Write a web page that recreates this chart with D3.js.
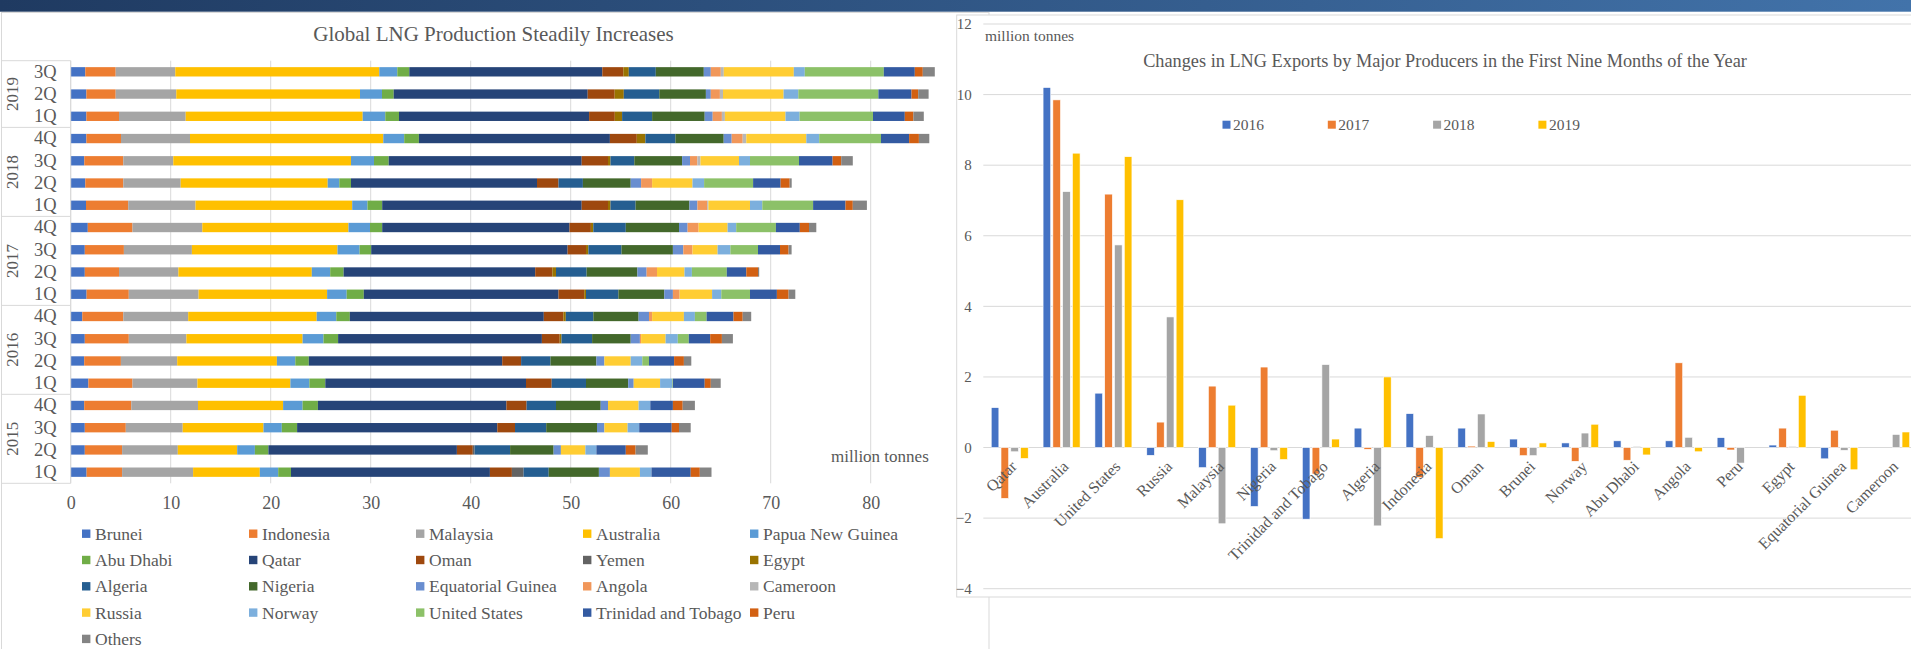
<!DOCTYPE html>
<html>
<head>
<meta charset="utf-8">
<script src="https://cdn.jsdelivr.net/npm/d3@7"></script>
<style>
    body { margin: 0; background: #fff; }
    svg { display: block; font-family: "Liberation Serif", "Times New Roman", serif; }
</style>
</head>
<body>
<svg id="drawing_region"></svg>
<script>
// ---- left chart data (2015 1Q ... 2019 3Q, million tonnes) ----
const periodYears    = ["2015","2015","2015","2015","2016","2016","2016","2016","2017","2017","2017","2017","2018","2018","2018","2018","2019","2019","2019"];
const periodQuarters = ["1Q","2Q","3Q","4Q","1Q","2Q","3Q","4Q","1Q","2Q","3Q","4Q","1Q","2Q","3Q","4Q","1Q","2Q","3Q"];
const xTicks = [0, 10, 20, 30, 40, 50, 60, 70, 80];

const producers = ["Brunei","Indonesia","Malaysia","Australia","Papua New Guinea","Abu Dhabi","Qatar","Oman","Yemen","Egypt",
                   "Algeria","Nigeria","Equatorial Guinea","Angola","Cameroon","Russia","Norway","United States","Trinidad and Tobago","Peru","Others"];

const brunei     = [1.59,1.41,1.41,1.35, 1.77,1.35,1.41,1.16, 1.59,1.41,1.41,1.71, 1.53,1.46,1.36,1.57, 1.57,1.57,1.46];
const indonesia  = [3.55,3.73,4.10,4.71, 4.41,3.67,4.40,4.10, 4.22,3.42,3.91,4.47, 4.22,3.80,3.90,3.46, 3.26,2.93,3.04];
const malaysia   = [7.10,5.57,5.69,6.67, 6.49,5.63,5.76,6.49, 6.98,5.94,6.80,6.98, 6.73,5.74,5.00,6.90, 6.67,6.06,5.96];
const australia  = [6.67,5.94,8.08,8.51, 9.30,9.97,11.62,12.85, 12.85,13.34,14.56,14.62, 15.67,14.70,17.77,19.33, 17.70,18.37,20.40];
const papua      = [1.84,1.77,1.83,1.95, 1.90,1.84,2.09,1.96, 1.96,1.84,2.21,2.15, 1.53,1.16,2.30,2.09, 2.26,2.20,1.80];
const abuDhabi   = [1.28,1.35,1.53,1.53, 1.59,1.35,1.46,1.35, 1.71,1.34,1.16,1.22, 1.47,1.17,1.47,1.47, 1.37,1.17,1.20];
const qatar      = [19.89,18.85,20.02,18.85, 20.07,19.34,20.38,19.40, 19.47,19.16,19.64,18.73, 19.95,18.60,19.30,19.10, 19.01,19.40,19.30];
const oman       = [2.20,1.59,1.77,2.02, 2.57,1.89,1.78,1.96, 2.57,1.71,1.84,2.14, 2.63,2.15,2.63,2.69, 2.57,2.70,2.10];
const yemen      = [1.17,0.18,0,0, 0,0,0,0, 0,0,0,0, 0,0,0,0, 0,0,0];
const egypt      = [0,0,0,0, 0,0,0.18,0.24, 0.18,0.37,0.24,0.24, 0.25,0,0.25,0.86, 0.73,0.91,0.55];
const algeria    = [2.51,3.55,3.12,2.94, 3.43,2.94,3.06,2.75, 3.24,3.06,3.31,3.25, 2.51,2.44,2.38,3.00, 3.00,3.55,2.70];
const nigeria    = [5.02,4.35,5.08,4.47, 4.22,4.59,3.86,4.53, 4.59,5.08,5.14,5.32, 5.38,4.78,4.78,4.83, 5.26,4.66,4.80];
const eqGuinea   = [1.10,0.73,0.74,0.73, 0.55,0.80,0.92,1.04, 0.86,0.92,1.04,0.86, 0.80,1.04,0.79,0.80, 0.80,0.49,0.70];
const angola     = [0,0,0,0, 0,0,0.12,0.31, 0.67,1.04,0.92,1.10, 0.98,1.10,0.74,1.10, 0.92,0.91,1.00];
const cameroon   = [0,0,0,0, 0,0,0,0, 0,0,0,0, 0.12,0,0.31,0.36, 0.30,0.31,0.30];
const russia     = [3.00,2.45,2.32,3.06, 2.64,2.63,2.45,3.18, 3.25,2.75,2.51,2.90, 4.16,4.04,3.85,6.00, 6.06,6.06,7.00];
const norway     = [1.16,1.10,1.16,1.17, 1.22,1.16,1.22,1.10, 0.92,0.74,1.28,0.86, 1.23,1.16,1.10,1.29, 1.41,1.47,1.10];
const usa        = [0,0,0,0, 0.06,0.67,1.10,1.17, 2.87,3.49,2.76,3.97, 5.08,4.90,4.90,6.18, 7.34,8.01,7.90];
const trinidad   = [3.92,2.94,3.25,2.26, 3.18,2.51,2.14,2.69, 2.69,1.95,2.20,2.39, 3.24,2.75,3.36,2.81, 3.18,3.31,3.10];
const peru       = [0.91,0.98,0.73,0.98, 0.61,0.98,1.17,0.92, 1.17,1.17,0.86,0.92, 0.73,0.91,0.86,0.98, 0.86,0.67,0.80];
const others     = [1.17,1.22,1.17,1.22, 0.99,0.74,1.10,0.85, 0.67,0.12,0.30,0.73, 1.41,0.20,1.16,1.04, 1.04,1.04,1.20];

const producerValues = [brunei, indonesia, malaysia, australia, papua, abuDhabi, qatar, oman, yemen, egypt,
                        algeria, nigeria, eqGuinea, angola, cameroon, russia, norway, usa, trinidad, peru, others];

// ---- right chart data (change vs previous year, million tonnes) ----
const exporters = ["Qatar","Australia","United States","Russia","Malaysia","Nigeria","Trinidad and Tobago","Algeria","Indonesia",
                   "Oman","Brunei","Norway","Abu Dhabi","Angola","Peru","Egypt","Equatorial Guinea","Cameroon"];
const changeYears = ["2016","2017","2018","2019"];
const change2016 = [1.13, 10.2, 1.54, -0.22, -0.57, -1.67, -2.03, 0.55, 0.96, 0.55, 0.24, 0.13, 0.19, 0.19, 0.28, 0.07, -0.32, 0];
const change2017 = [-1.44, 9.85, 7.18, 0.72, 1.74, 2.28, -0.75, -0.05, -0.85, 0.04, -0.23, -0.39, -0.36, 2.40, -0.07, 0.55, 0.49, 0];
const change2018 = [-0.12, 7.25, 5.74, 3.70, -2.16, -0.09, 2.35, -2.22, 0.34, 0.95, -0.23, 0.41, 0.03, 0.29, -0.44, 0.03, -0.08, 0.37];
const change2019 = [-0.31, 8.34, 8.24, 7.02, 1.20, -0.34, 0.24, 2.00, -2.58, 0.17, 0.13, 0.66, -0.21, -0.12, 0, 1.48, -0.63, 0.44];
const yTicksRight = [-4, -2, 0, 2, 4, 6, 8, 10, 12];

const producerColors = ["#4472C4","#ED7D31","#A5A5A5","#FFC000","#5B9BD5","#70AD47","#264478","#9E480E","#636363","#997300",
                        "#255E91","#43682B","#698ED0","#F1975A","#B7B7B7","#FFCD33","#7CAFDD","#8CC168","#335AA1","#D26012","#848484"];
const yearColors = ["#4472C4","#ED7D31","#A5A5A5","#FFC000"];
const textColor = "#595959";

const svg = d3.select('#drawing_region')
    .attr('width', 1911)
    .attr('height', 649);

// top band
const grad = svg.append('defs').append('linearGradient').attr('id', 'band');
grad.append('stop').attr('offset', '0%').attr('stop-color', '#1f3a61');
grad.append('stop').attr('offset', '100%').attr('stop-color', '#4273aa');
svg.append('rect').attr('width', 1911).attr('height', 11.7).attr('fill', 'url(#band)');

// ================= left chart =================
svg.append('rect')
    .attr('x', 1.5).attr('y', 12.5).attr('width', 987.5).attr('height', 700)
    .attr('fill', '#fff').attr('stroke', '#d9d9d9');

const left = svg.append('g');

const periodKeys = periodYears.map((y, i) => y + ' ' + periodQuarters[i]);
const table = periodKeys.map((p, i) => {
    let row = { period: p };
    producers.forEach((c, j) => { row[c] = producerValues[j][i]; });
    return row;
});

const xL = d3.scaleLinear().domain([0, 80]).range([70.7, 870.7]);
const yL = d3.scaleBand()
    .domain(periodKeys.slice().reverse())
    .range([60.7, 483.3])
    .paddingInner(0.58)
    .paddingOuter(0.29);

left.append('text')
    .attr('x', 493.5).attr('y', 41)
    .attr('text-anchor', 'middle')
    .attr('font-size', 21)
    .attr('fill', textColor)
    .text('Global LNG Production Steadily Increases');

left.selectAll('.vgrid')
    .data(xTicks)
    .enter().append('line')
    .attr('x1', d => xL(d)).attr('x2', d => xL(d))
    .attr('y1', 60.7).attr('y2', 483.3)
    .attr('stroke', '#d9d9d9');

const stacked = d3.stack().keys(producers)(table);
left.selectAll('.series')
    .data(stacked)
    .enter().append('g')
    .attr('fill', (d, i) => producerColors[i])
    .selectAll('rect')
    .data(d => d)
    .enter().append('rect')
    .attr('x', d => xL(d[0]))
    .attr('width', d => Math.max(0, xL(d[1]) - xL(d[0])))
    .attr('y', d => yL(d.data.period))
    .attr('height', yL.bandwidth());

// x axis
const xAxisL = left.append('g')
    .attr('transform', 'translate(0,483.3)')
    .call(d3.axisBottom(xL).tickValues(xTicks).tickSize(0).tickPadding(12.5));
xAxisL.select('.domain').remove();
xAxisL.attr('font-family', null).attr('font-size', 18).attr('color', textColor);

// category axis (quarters)
const yAxisL = left.append('g')
    .attr('transform', 'translate(70.7,0)')
    .call(d3.axisLeft(yL).tickSize(0).tickPadding(14).tickFormat(d => d.split(' ')[1]));
yAxisL.select('.domain').remove();
yAxisL.attr('font-family', null).attr('font-size', 18.5).attr('color', textColor);

// year groups
const step = yL.step();
const yearGroups = d3.groups(periodKeys, k => k.split(' ')[0]);
const bounds = [];
yearGroups.forEach(([yr, keys]) => {
    const ys = keys.map(k => yL(k));
    const top = d3.min(ys) - step * 0.29;
    const bottom = d3.max(ys) + yL.bandwidth() + step * 0.29;
    bounds.push(top, bottom);
    left.append('text')
        .attr('transform', `translate(17.5,${(top + bottom) / 2}) rotate(-90)`)
        .attr('text-anchor', 'middle')
        .attr('font-size', 17)
        .attr('fill', textColor)
        .text(yr);
});
left.selectAll('.ybound')
    .data(Array.from(new Set(bounds.map(b => Math.round(b * 10) / 10))))
    .enter().append('line')
    .attr('x1', 1.5).attr('x2', 70.7)
    .attr('y1', d => d).attr('y2', d => d)
    .attr('stroke', '#d9d9d9');
left.append('line')
    .attr('x1', 70.7).attr('x2', 70.7).attr('y1', 60.7).attr('y2', 483.3)
    .attr('stroke', '#d9d9d9');

left.append('text')
    .attr('x', 831).attr('y', 462)
    .attr('font-size', 17)
    .attr('fill', textColor)
    .text('million  tonnes');

// legend
const legL = left.selectAll('.legL')
    .data(producers)
    .enter().append('g')
    .attr('transform', (d, i) => `translate(${82 + (i % 5) * 167},${533.7 + Math.floor(i / 5) * 26.3})`);
legL.append('rect')
    .attr('x', 0).attr('y', -4.2).attr('width', 8.4).attr('height', 8.4)
    .attr('fill', (d, i) => producerColors[i]);
legL.append('text')
    .attr('x', 13).attr('y', 6)
    .attr('font-size', 17.5)
    .attr('fill', textColor)
    .text(d => d);

// ================= right chart =================
svg.append('rect')
    .attr('x', 956.7).attr('y', 15).attr('width', 1000).attr('height', 582)
    .attr('fill', '#fff').attr('stroke', '#d9d9d9');

const right = svg.append('g');
const changeValues = [change2016, change2017, change2018, change2019];

const yR = d3.scaleLinear().domain([-4, 12]).range([588.7, 24]);
const xR0 = d3.scaleBand().domain(exporters).range([983.8, 983.8 + 18 * 51.85]);
const groupW = 37;
const xR1 = d3.scaleBand().domain(changeYears).range([0, groupW]).paddingInner(0.22);
const groupOff = (xR0.bandwidth() - groupW) / 2;

right.selectAll('.hgrid')
    .data(yTicksRight)
    .enter().append('line')
    .attr('x1', 983.3).attr('x2', 1911)
    .attr('y1', d => yR(d)).attr('y2', d => yR(d))
    .attr('stroke', '#d9d9d9');

const yAxisR = right.append('g')
    .attr('transform', 'translate(983.3,0)')
    .call(d3.axisLeft(yR).tickValues(yTicksRight).tickSize(0).tickPadding(11.5));
yAxisR.select('.domain').remove();
yAxisR.attr('font-family', null).attr('font-size', 15).attr('color', textColor);

right.append('text')
    .attr('x', 985).attr('y', 40.5)
    .attr('font-size', 15.5)
    .attr('fill', textColor)
    .text('million tonnes');

right.append('text')
    .attr('x', 1445).attr('y', 66.7)
    .attr('text-anchor', 'middle')
    .attr('font-size', 18.3)
    .attr('fill', textColor)
    .text('Changes in LNG Exports by Major Producers in the First Nine Months of the Year');

const groups = right.selectAll('.grp')
    .data(exporters)
    .enter().append('g')
    .attr('transform', d => `translate(${xR0(d) + groupOff},0)`);
groups.selectAll('rect')
    .data((d, i) => changeYears.map((yr, j) => ({ yr: yr, v: changeValues[j][i], j: j })))
    .enter().append('rect')
    .attr('x', d => xR1(d.yr))
    .attr('width', xR1.bandwidth())
    .attr('y', d => yR(Math.max(0, d.v)))
    .attr('height', d => Math.abs(yR(d.v) - yR(0)))
    .attr('fill', d => yearColors[d.j])
    .attr('stroke', '#fff')
    .attr('stroke-width', 0.6);

const xAxisR = right.append('g')
    .attr('transform', `translate(0,${yR(0)})`)
    .call(d3.axisBottom(xR0).tickSize(0));
xAxisR.select('.domain').remove();
xAxisR.attr('font-family', null).attr('font-size', 16).attr('color', textColor);
xAxisR.selectAll('text')
    .attr('y', 0).attr('dy', 0)
    .attr('text-anchor', 'end')
    .attr('transform', 'translate(8,20) rotate(-45)');

// legend right
const legR = right.selectAll('.legR')
    .data(changeYears)
    .enter().append('g')
    .attr('transform', (d, i) => `translate(${1222.5 + i * 105.3},124.7)`);
legR.append('rect')
    .attr('x', 0).attr('y', -4).attr('width', 8).attr('height', 8)
    .attr('fill', (d, i) => yearColors[i]);
legR.append('text')
    .attr('x', 10.5).attr('y', 5.5)
    .attr('font-size', 15.5)
    .attr('fill', textColor)
    .text(d => d);
</script>
</body>
</html>
